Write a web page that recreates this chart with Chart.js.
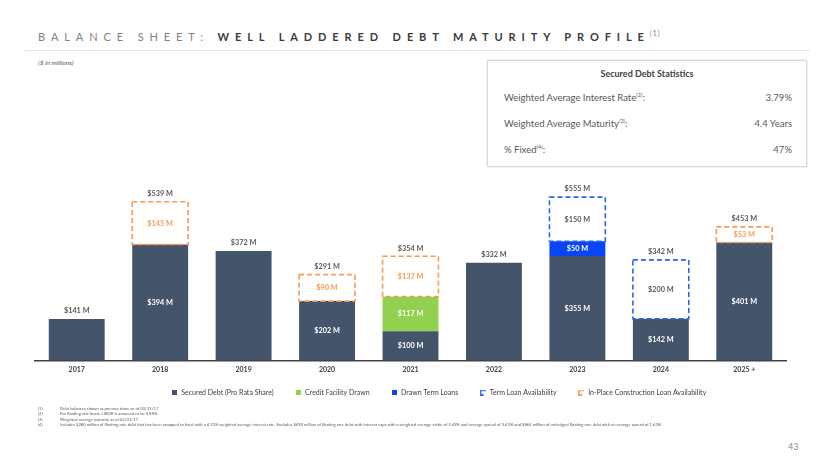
<!DOCTYPE html>
<html>
<head>
<meta charset="utf-8">
<script src="https://cdn.jsdelivr.net/npm/chart.js@4"></script>
<style>
  html, body { margin:0; padding:0; background:#fff; width:830px; height:467px; overflow:hidden; font-family: Lato, "Open Sans", sans-serif; }
  .abs { position:absolute; }
  #title { left:38px; top:29px; font-size:11px; letter-spacing:5.9px; white-space:nowrap; color:#7f7f7f; }
  #title b { color:#3a3a3a; font-weight:700; }
  #title sup { font-size:7px; letter-spacing:1px; }
  #rule { left:25px; top:50px; width:785px; height:1px; background:#e3e3e3; }
  #units { left:38px; top:59px; font-size:6.5px; font-style:italic; color:#595959; }
  #stats { left:487px; top:60px; width:320px; height:107px; border:1px solid #d9d9d9; box-shadow:0 0 2px rgba(0,0,0,0.15); box-sizing:border-box; color:#595959; }
  #stats .hd { position:absolute; top:7px; left:0; width:100%; text-align:center; font-weight:700; font-size:9px; color:#404040; }
  #stats .row { position:absolute; left:16px; right:14px; font-size:9.5px; }
  #stats .row span.v { position:absolute; right:0; }
  #stats sup { font-size:5.5px; }
  #chartwrap { left:0; top:170px; width:830px; height:247px; }
  #notes { left:38px; top:406px; font-size:4.15px; color:#595959; line-height:5.4px; white-space:nowrap; }
  #notes .n { display:inline-block; width:22px; }
  #page { left:788px; top:441px; font-size:9px; color:#8c8c8c; }
</style>
</head>
<body>
<div id="title" class="abs">BALANCE SHEET: <b>WELL LADDERED DEBT MATURITY PROFILE</b><sup>(1)</sup></div>
<div id="rule" class="abs"></div>
<div id="units" class="abs">($ in millions)</div>
<div id="stats" class="abs">
  <div class="hd">Secured Debt Statistics</div>
  <div class="row" style="top:31px">Weighted Average Interest Rate<sup>(2)</sup>:<span class="v">3.79%</span></div>
  <div class="row" style="top:57px">Weighted Average Maturity<sup>(3)</sup>:<span class="v">4.4 Years</span></div>
  <div class="row" style="top:83px">% Fixed<sup>(4)</sup>:<span class="v">47%</span></div>
</div>
<div id="chartwrap" class="abs"><canvas id="c" width="830" height="247"></canvas></div>
<div id="notes" class="abs">
  <div><span class="n">(1)</span>Debt balances shown at pro rata share as of 03/31/17.</div>
  <div><span class="n">(2)</span>For floating rate loans, LIBOR is assumed to be 0.98%.</div>
  <div><span class="n">(3)</span>Weighted average maturity as of 03/31/17.</div>
  <div><span class="n">(4)</span>Includes $280 million of floating rate debt that has been swapped to fixed with a 4.31% weighted average interest rate. Excludes $490 million of floating rate debt with interest caps with a weighted average strike of 3.49% and average spread of 2.43% and $864 million of unhedged floating rate debt with an average spread of 1.63%</div>
</div>
<div id="page" class="abs">43</div>
<script>
const categories = ['2017','2018','2019','2020','2021','2022','2023','2024','2025 +'];
const securedDebt = [141, 394, 372, 202, 100, 332, 355, 142, 401];
const creditFacilityDrawn = [null, null, null, null, 117, null, null, null, null];
const drawnTermLoans = [null, null, null, null, null, null, 50, null, null];
const termLoanAvailability = [null, null, null, null, null, null, 150, 200, null];
const constructionLoanAvailability = [null, 145, null, 90, 137, null, null, null, 53];
const totalLabels = [141, 539, 372, 291, 354, 332, 555, 342, 453];
const seriesNames = ['Secured Debt (Pro Rata Share)', 'Credit Facility Drawn', 'Drawn Term Loans', 'Term Loan Availability', 'In-Place Construction Loan Availability'];

const C_DARK = '#44546a', C_GREEN = '#92d050', C_BLUE = '#0a45f5', C_BLUED = '#2a66f0', C_ORANGE = '#f79a55';

function squareIcon(color) {
  const c = document.createElement('canvas'); c.width = 5; c.height = 5;
  const g = c.getContext('2d'); g.fillStyle = color; g.fillRect(0, 0, 5, 5); return c;
}
function bracketIcon(color) {
  const c = document.createElement('canvas'); c.width = 6; c.height = 6;
  const g = c.getContext('2d'); g.strokeStyle = color; g.lineWidth = 1.5;
  g.beginPath(); g.moveTo(6, 0.75); g.lineTo(0.75, 0.75); g.lineTo(0.75, 5.25); g.lineTo(4, 5.25); g.stroke(); return c;
}
const icons = [squareIcon(C_DARK), squareIcon(C_GREEN), squareIcon(C_BLUE), bracketIcon(C_BLUED), bracketIcon(C_ORANGE)];

const legendShift = {
  id: 'legendShift',
  afterLayout(chart) {
    const lg = chart.legend;
    if (lg) { lg.left += 28; lg.right += 28; lg.top -= 11; lg.bottom -= 11; }
  }
};

const dashedPlugin = {
  id: 'dashedBoxes',
  afterDatasetsDraw(chart) {
    const ctx = chart.ctx;
    const dashed = { 3: C_BLUED, 4: C_ORANGE };
    Object.keys(dashed).forEach(di => {
      const meta = chart.getDatasetMeta(+di);
      meta.data.forEach((el, i) => {
        if (chart.data.datasets[di].data[i] == null) return;
        const p = el.getProps(['x', 'y', 'base', 'width'], true);
        ctx.save();
        ctx.strokeStyle = dashed[di]; ctx.lineWidth = 1.6; ctx.setLineDash([5, 3]);
        ctx.strokeRect(p.x - p.width / 2, p.y, p.width, p.base - p.y);
        ctx.restore();
      });
    });
    const segColors = ['#ffffff', '#ffffff', '#ffffff', '#595959', C_ORANGE];
    ctx.save();
    ctx.font = 'bold 7.3px Lato';
    ctx.textAlign = 'center'; ctx.textBaseline = 'middle';
    chart.data.datasets.forEach((ds, di) => {
      const meta = chart.getDatasetMeta(di);
      meta.data.forEach((el, i) => {
        const v = ds.data[i];
        if (v == null) return;
        if (di === 0 && v === totalLabels[i]) return;
        const p = el.getProps(['x', 'y', 'base'], true);
        ctx.fillStyle = segColors[di];
        ctx.fillText('$' + v + ' M', p.x, (p.y + p.base) / 2);
      });
    });
    ctx.fillStyle = '#595959';
    categories.forEach((cat, i) => {
      let top = Infinity, x = 0;
      chart.data.datasets.forEach((ds, di) => {
        if (ds.data[i] == null) return;
        const p = chart.getDatasetMeta(di).data[i].getProps(['x', 'y'], true);
        if (p.y < top) { top = p.y; x = p.x; }
      });
      ctx.fillText('$' + totalLabels[i] + ' M', x, top - 8);
    });
    ctx.restore();
  }
};

const seriesData = [securedDebt, creditFacilityDrawn, drawnTermLoans, termLoanAvailability, constructionLoanAvailability];
const fills = [C_DARK, C_GREEN, C_BLUE, 'rgba(0,0,0,0)', 'rgba(0,0,0,0)'];

new Chart(document.getElementById('c'), {
  type: 'bar',
  data: {
    labels: categories,
    datasets: seriesData.map((d, i) => ({
      label: seriesNames[i], data: d, backgroundColor: fills[i], borderWidth: 0,
      barPercentage: 0.67, categoryPercentage: 1.0
    }))
  },
  options: {
    responsive: false,
    animation: false,
    devicePixelRatio: 1,
    layout: { padding: { left: 35, right: 44, top: 0, bottom: 0 } },
    scales: {
      x: {
        stacked: true,
        grid: { display: false, drawTicks: false },
        border: { display: true, color: '#404040', width: 1.5 },
        ticks: { color: '#404040', font: { family: 'Lato', size: 7, weight: 'bold' }, padding: 5 }
      },
      y: { stacked: true, display: false, min: 0, max: 647 }
    },
    plugins: {
      tooltip: { enabled: false },
      legend: {
        position: 'bottom',
        labels: {
          usePointStyle: true,
          padding: 21,
          color: '#404040',
          font: { family: 'Lato', size: 7 },
          generateLabels(chart) {
            const items = Chart.defaults.plugins.legend.labels.generateLabels(chart);
            items.forEach((it, i) => { it.pointStyle = icons[i]; it.lineWidth = 0; });
            return items;
          }
        }
      }
    }
  },
  plugins: [dashedPlugin, legendShift]
});
</script>
</body>
</html>
